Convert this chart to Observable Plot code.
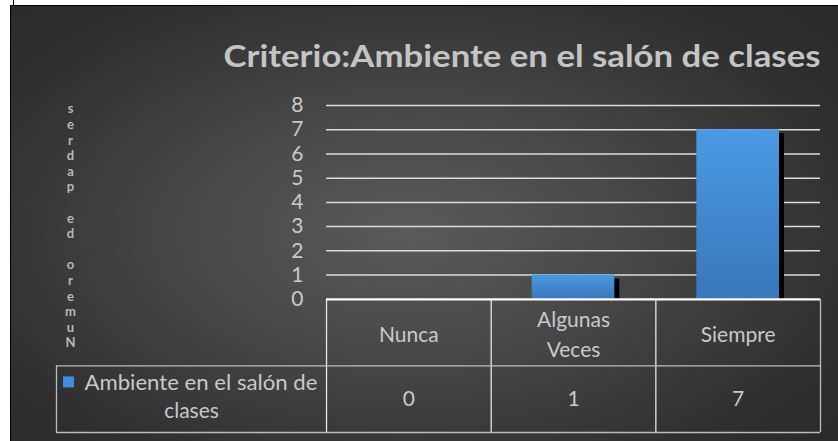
<!DOCTYPE html>
<html>
<head>
<meta charset="utf-8">
<script src="https://cdn.jsdelivr.net/npm/d3@7"></script>
<script src="https://cdn.jsdelivr.net/npm/@observablehq/plot@0.6"></script>
<style>
  html, body { margin: 0; padding: 0; background: #fff; width: 838px; height: 441px; overflow: hidden; }
  #frame { position: absolute; left: 10px; top: 5px; width: 828px; height: 436px; border-left: 1px solid #000; border-top: 1px solid #000; }
  #tick { position: absolute; left: 13px; top: 0; width: 1px; height: 5px; background: #000; }
  #chart { position: absolute; left: 0; top: 0; }
</style>
</head>
<body>
<div id="tick"></div>
<div id="frame"><div id="chart"></div></div>
<script>
const title = "Criterio:Ambiente en el salón de clases";
const yLabel = "Numero de padres";
const seriesName = "Ambiente en el salón de clases";
const categories = ["Nunca", "Algunas Veces", "Siempre"];
const values = [0, 1, 7];
const yTicks = [0, 1, 2, 3, 4, 5, 6, 7, 8];

const data = categories.map((c, i) => ({cat: c, i, value: values[i]}));
const textColor = "#c9c9c9";
const font = "Lato, 'Open Sans', sans-serif";

// table layout in data units
const tableLeft = -1.64, headerBottom = -2.75, tableBottom = -5.5;

// y label drawn as upright stacked characters, bottom to top
const stackedLabel = Array.from(yLabel).reverse().map(c => c === " " ? "\u00a0" : c).join("\n");

const plot = Plot.plot({
  width: 827,
  height: 435,
  marginLeft: 45,
  marginRight: 18,
  marginTop: 99,
  marginBottom: 9,
  x: {type: "linear", domain: [tableLeft, categories.length], axis: null},
  y: {domain: [tableBottom, 8], axis: null},
  style: {
    fontFamily: font,
    background: "radial-gradient(ellipse 75% 80% at 48% 52%, #5a5a5a 0%, #484848 35%, #2f2f2f 75%, #282828 100%)",
    overflow: "visible"
  },
  marks: [
    // gridlines
    Plot.ruleY(yTicks.filter(t => t > 0), {x1: 0, x2: categories.length, stroke: "#dcdcdc", strokeWidth: 1.5}),
    // bar shadows
    Plot.rectY(data.filter(d => d.value > 0), {x1: d => d.i, x2: d => d.i + 1, y1: 0, y2: "value", insetLeft: 41, insetRight: 41, insetTop: 4, dx: 5, fill: "#000"}),
    // bars
    Plot.rectY(data, {x1: d => d.i, x2: d => d.i + 1, y1: 0, y2: "value", insetLeft: 41, insetRight: 41, fill: "url(#barGrad)"}),
    // table lines
    Plot.ruleX([0, 1, 2], {y1: 0, y2: tableBottom, stroke: "#e6e6e6", strokeWidth: 1.3}),
    Plot.ruleX([categories.length], {y1: 0, y2: tableBottom, stroke: "#bdbdbd", strokeWidth: 1.3}),
    Plot.ruleY([headerBottom, tableBottom], {x1: tableLeft, x2: categories.length, stroke: "#bdbdbd", strokeWidth: 1.3}),
    Plot.ruleX([tableLeft], {y1: headerBottom, y2: tableBottom, stroke: "#bdbdbd", strokeWidth: 1.3}),
    // zero axis line
    Plot.ruleY([0], {x1: 0, x2: categories.length, stroke: "#fff", strokeWidth: 2.2}),
    // y tick labels
    Plot.text(yTicks, {x: 0, y: d => d, dx: -23, textAnchor: "end", fontSize: 21, fill: textColor}),
    // category header row
    Plot.text(data, {x: d => d.i + 0.5, y: headerBottom / 2, text: "cat", lineWidth: 5.5, lineHeight: 1.4, fontSize: 21, fill: textColor}),
    // values row
    Plot.text(data, {x: d => d.i + 0.5, y: (headerBottom + tableBottom) / 2, text: d => String(d.value), fontSize: 21, fill: textColor}),
    // legend key in table
    Plot.dot([seriesName], {x: tableLeft, y: -3.41, dx: 12, symbol: "square", r: 6.2, fill: "#3d8fe0", stroke: null}),
    Plot.text([seriesName.split(" clases")[0]], {x: tableLeft, y: -3.48, dx: 28, textAnchor: "start", fontSize: 21, fill: textColor}),
    Plot.text(["clases"], {x: tableLeft / 2, y: -4.63, fontSize: 21, fill: textColor}),
    // y label, stacked characters
    Plot.text([stackedLabel], {x: -1.555, y: 3.05, fontSize: 13, lineHeight: 1.2, fontWeight: "bold", fill: "#b8b8b8"}),
    // title
    Plot.text([title], {frameAnchor: "top-right", lineAnchor: "middle", dy: -48, textAnchor: "end", fontSize: 30, fontWeight: "bold", fill: "#c4c4c4"})
  ]
});

const svg = d3.select(plot);
const defs = svg.insert("defs", ":first-child");
const g = defs.append("linearGradient").attr("id", "barGrad").attr("x1", 0).attr("y1", 0).attr("x2", 0).attr("y2", 1);
g.append("stop").attr("offset", "0%").attr("stop-color", "#4a9ae4");
g.append("stop").attr("offset", "100%").attr("stop-color", "#3877bb");

// stretch texts horizontally to match the reference's wide face
svg.selectAll("text").each(function() {
  const t = this.textContent;
  if (t === title) d3.select(this).attr("textLength", 597).attr("lengthAdjust", "spacingAndGlyphs");
  if (t === "Ambiente en el salón de") d3.select(this).attr("textLength", 233).attr("lengthAdjust", "spacingAndGlyphs");
});

document.getElementById("chart").appendChild(plot);
</script>
</body>
</html>
